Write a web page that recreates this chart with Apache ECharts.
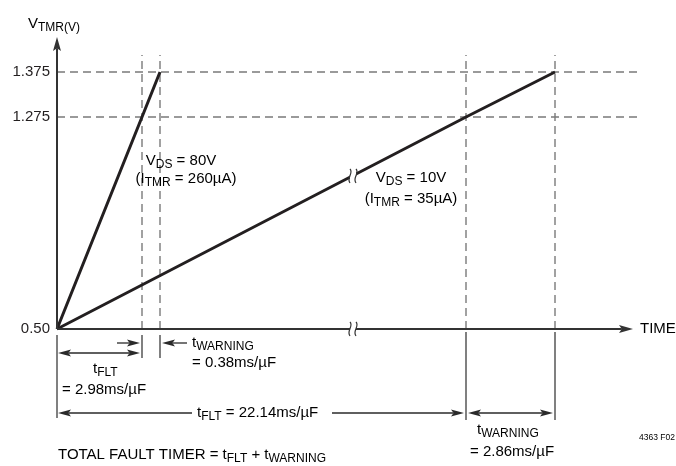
<!DOCTYPE html>
<html><head><meta charset="utf-8">
<script src="https://cdn.jsdelivr.net/npm/echarts@6/dist/echarts.min.js"></script>
<style>html,body{margin:0;padding:0;background:#fff}#c{width:676px;height:466px}</style>
</head><body><div id="c"></div>
<script>
// Schematic timing diagram (not drawn to scale): x = time, y = V_TMR, in diagram units
const yTickPos = [0, 212, 257];
const yTickLabels = ['0.50', '1.275', '1.375'];
const steepX = [0, 85, 103];      // VDS = 80V ramp (ITMR = 260uA)
const steepY = [0, 212, 257];
const shallowX = [0, 409, 498];   // VDS = 10V ramp (ITMR = 35uA)
const shallowY = [0, 212, 257];
const timeMarks = [85, 103, 409, 498];
const breakPoints = [[296, 0], [296, 153]];

const FONT = "'Liberation Sans', Arial, Helvetica, sans-serif";
const INK = '#231f20';
const rich = {
  m: {fontSize: 15, lineHeight: 20, fontFamily: FONT, color: INK},
  s: {fontSize: 12, lineHeight: 12, padding: [8, 0, 0, 0], fontFamily: FONT, color: INK},
  k: {fontSize: 8.5, lineHeight: 12, fontFamily: FONT, color: INK}
};

// guide segments: x1,y1,x2,y2,dashed(1)/solid(0)
const guides = [
  [0, yTickPos[2], 585, yTickPos[2], 1],
  [0, yTickPos[1], 585, yTickPos[1], 1],
  [timeMarks[0], 0, timeMarks[0], 274, 1],
  [timeMarks[1], 0, timeMarks[1], 274, 1],
  [timeMarks[2], 0, timeMarks[2], 274, 1],
  [timeMarks[3], 0, timeMarks[3], 274, 1],
  [timeMarks[0], -6, timeMarks[0], -29, 0],
  [timeMarks[1], -6, timeMarks[1], -29, 0],
  [0, -6, 0, -89, 0],
  [timeMarks[2], -3, timeMarks[2], -91, 0],
  [timeMarks[3], -3, timeMarks[3], -91, 0]
];
// arrows: x1,y1 (tail),x2,y2 (tip), double(1), axis(1)
const arrows = [
  [0, 0, 0, 292, 0, 1],
  [0, 0, 576, 0, 0, 1],
  [60, -14, 83, -14, 0, 0],
  [130, -14, 105, -14, 0, 0],
  [1, -24, 83, -24, 1, 0],
  [135, -84, 1, -84, 0, 0],
  [275, -84, 407, -84, 0, 0],
  [411, -84, 496, -84, 1, 0]
];
// text annotations
const textPos = [
  [-29, 305], [124, 168], [129, 150], [354, 151], [354, 130],
  [135, -14], [135, -34], [36, -40], [5, -61], [140, -84],
  [420, -101], [413, -123], [583, 0], [618, -109], [1, -126]
];
const textContent = [
  ['{m|V}{s|TMR(V)}', 'left'],
  ['{m|V}{s|DS}{m| = 80V}', 'center'],
  ['{m|(I}{s|TMR}{m| = 260µA)}', 'center'],
  ['{m|V}{s|DS}{m| = 10V}', 'center'],
  ['{m|(I}{s|TMR}{m| = 35µA)}', 'center'],
  ['{m|t}{s|WARNING}', 'left'],
  ['{m|= 0.38ms/µF}', 'left'],
  ['{m|t}{s|FLT}', 'left'],
  ['{m|= 2.98ms/µF}', 'left'],
  ['{m|t}{s|FLT}{m| = 22.14ms/µF}', 'left'],
  ['{m|t}{s|WARNING}', 'left'],
  ['{m|= 2.86ms/µF}', 'left'],
  ['{m|TIME}', 'left'],
  ['{k|4363 F02}', 'right'],
  ['{m|TOTAL FAULT TIMER = t}{s|FLT}{m| + t}{s|WARNING}', 'left']
];

function head(tip, d, L, W, color) {
  const nx = -d[1], ny = d[0];
  const bx = tip[0] - d[0] * L, by = tip[1] - d[1] * L;
  const nt = [tip[0] - d[0] * L * 0.8, tip[1] - d[1] * L * 0.8];
  return {type: 'polygon', shape: {points: [tip, [bx + nx * W / 2, by + ny * W / 2], nt, [bx - nx * W / 2, by - ny * W / 2]]},
    style: {fill: color}};
}

const chart = echarts.init(document.getElementById('c'));
chart.setOption({
  animation: false,
  backgroundColor: '#fff',
  grid: {left: 57, top: 37, right: 43, bottom: 137},
  xAxis: {type: 'value', min: 0, max: 576, show: false},
  yAxis: {type: 'value', min: 0, max: 292, splitLine: {show: false}, axisLine: {show: false}, axisTick: {show: false},
    axisLabel: {customValues: yTickPos, margin: 7, fontSize: 15, fontFamily: FONT, color: INK,
      formatter: v => yTickLabels[yTickPos.indexOf(v)] || ''}},
  series: [
    {type: 'custom', z: 1, clip: false, data: guides, renderItem: (p, api) => {
      const a = api.coord([api.value(0), api.value(1)]), b = api.coord([api.value(2), api.value(3)]);
      const dashed = api.value(4) === 1;
      return {type: 'line', shape: {x1: a[0], y1: a[1], x2: b[0], y2: b[1]},
        style: {stroke: dashed ? '#7a7a7a' : '#4a4a4a', lineWidth: 1.4, lineDash: dashed ? [8, 5] : null}};
    }},
    {type: 'line', z: 2, clip: false, symbol: 'none', lineStyle: {color: INK, width: 3},
      data: steepX.map((x, i) => [x, steepY[i]])},
    {type: 'line', z: 2, clip: false, symbol: 'none', lineStyle: {color: INK, width: 3},
      data: shallowX.map((x, i) => [x, shallowY[i]])},
    {type: 'custom', z: 4, clip: false, data: arrows, renderItem: (p, api) => {
      const a = api.coord([api.value(0), api.value(1)]), b = api.coord([api.value(2), api.value(3)]);
      const dbl = api.value(4) === 1, axis = api.value(5) === 1;
      const color = axis ? '#333' : '#2a2a2a';
      const L = axis ? 14 : 13, W = axis ? 8 : 7;
      const len = Math.hypot(b[0] - a[0], b[1] - a[1]);
      const d = [(b[0] - a[0]) / len, (b[1] - a[1]) / len];
      const e = [b[0] - d[0] * L * 0.8, b[1] - d[1] * L * 0.8];
      const s = dbl ? [a[0] + d[0] * L * 0.8, a[1] + d[1] * L * 0.8] : a;
      const ch = [{type: 'line', shape: {x1: s[0], y1: s[1], x2: e[0], y2: e[1]}, style: {stroke: color, lineWidth: axis ? 2 : 1.3}},
        head(b, d, L, W, color)];
      if (dbl) ch.push(head(a, [-d[0], -d[1]], L, W, color));
      return {type: 'group', children: ch};
    }},
    {type: 'custom', z: 5, clip: false, data: breakPoints, renderItem: (p, api) => {
      const c = api.coord([api.value(0), api.value(1)]);
      const x = c[0], y = c[1];
      const sq = dx => ({type: 'path', shape: {pathData: `M${x + dx},${y - 7} C${x + dx + 4},${y - 3} ${x + dx - 4},${y + 2} ${x + dx},${y + 7}`},
        style: {stroke: '#333', lineWidth: 1.2, fill: null}});
      return {type: 'group', children: [
        {type: 'rect', shape: {x: x - 3, y: y - 5, width: 6, height: 10}, style: {fill: '#fff'}},
        sq(-3), sq(3)]};
    }},
    {type: 'custom', z: 6, clip: false, data: textPos, renderItem: (p, api) => {
      const c = api.coord([api.value(0), api.value(1)]);
      const t = textContent[p.dataIndex];
      return {type: 'text', style: {text: t[0], rich: rich, x: c[0], y: c[1], align: t[1], verticalAlign: 'middle'}};
    }}
  ]
});
</script></body></html>
